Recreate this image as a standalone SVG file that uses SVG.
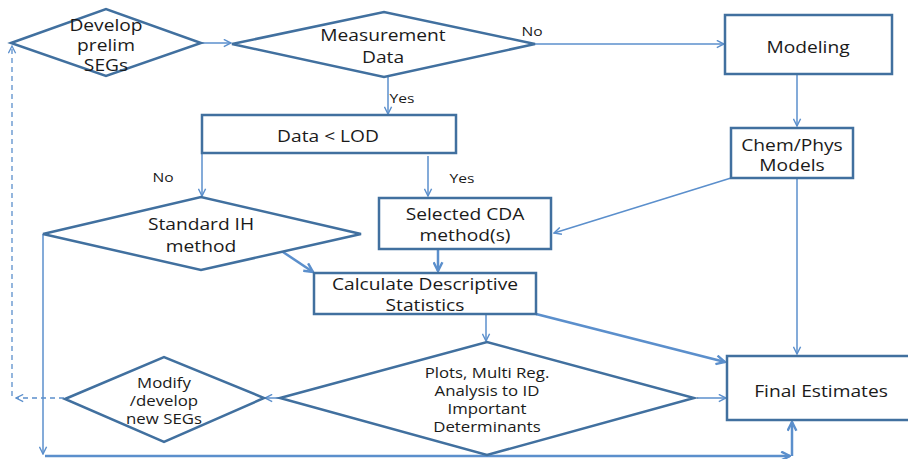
<svg xmlns="http://www.w3.org/2000/svg" width="908" height="459" viewBox="0 0 908 459">
<defs>
<marker id="ah" viewBox="0 0 10 10" refX="9" refY="5" markerWidth="9" markerHeight="9" markerUnits="userSpaceOnUse" orient="auto">
<path d="M1,1 L9,5 L1,9" fill="none" stroke="#5B8FCC" stroke-width="1.6"/>
</marker>
<marker id="ahd" viewBox="0 0 10 10" refX="9" refY="5" markerWidth="9" markerHeight="9" markerUnits="userSpaceOnUse" orient="auto">
<path d="M1,1 L9,5 L1,9" fill="none" stroke="#5B8FCC" stroke-width="1.4"/>
</marker>
<marker id="ahb" viewBox="0 0 10 10" refX="9" refY="5" markerWidth="11" markerHeight="11" markerUnits="userSpaceOnUse" orient="auto">
<path d="M1,1 L9,5 L1,9" fill="none" stroke="#5B8FCC" stroke-width="2.2"/>
</marker>
</defs>
<style>
.node{fill:#ffffff;stroke:#41709F;stroke-width:2.5}
.t{font-family:"Open Sans","Liberation Sans",sans-serif;font-size:16px;fill:#1a1a1a;text-anchor:middle}
.s{font-size:14px}
.lab{font-family:"Open Sans","Liberation Sans",sans-serif;font-size:13px;fill:#1a1a1a;text-anchor:middle}
.c{fill:none;stroke:#5B8FCC;stroke-width:1.5;marker-end:url(#ah)}
.cb{fill:none;stroke:#5B8FCC;stroke-width:2.5;marker-end:url(#ahb)}
.cd{fill:none;stroke:#5B8FCC;stroke-width:1.3;stroke-dasharray:5,4;marker-end:url(#ahd)}
</style>
<rect width="908" height="459" fill="#ffffff"/>
<g id="connectors">
<path class="c" d="M201,43 H231"/>
<path class="c" d="M535,44 H724"/>
<path class="c" d="M388,77 V114"/>
<path class="c" d="M797,75 V126"/>
<path class="c" d="M202,153 V196"/>
<path class="c" d="M428,156 V196"/>
<path class="c" d="M731,178 L554,233"/>
<path class="c" d="M797,178 V354"/>
<path class="cb" d="M280,250 L313,272"/>
<path class="cb" d="M438,249 V271"/>
<path class="c" d="M486,315 V341"/>
<path class="cb" d="M536,314 L725,362"/>
<path class="c" d="M697,398 H726"/>
<path class="c" d="M280,398 H265"/>
<path class="cd" d="M64,398 H16"/>
<path class="cd" d="M12,396 V46"/>
<path class="c" d="M43,234 V454"/>
<path class="cb" d="M45,456 H790"/>
<path class="cb" d="M792,456 V422"/>
</g>
<g id="develop">
<polygon class="node" points="11,43 106,9 201,43 106,76"/>
<text class="t" transform="translate(106 0) scale(1.2 1)"><tspan x="0" y="31">Develop</tspan><tspan x="0" y="51">prelim</tspan><tspan x="0" y="71">SEGs</tspan></text>
</g>
<g id="measurement">
<polygon class="node" points="232,44 384,12 535,44 384,77"/>
<text class="t" transform="translate(383 0) scale(1.2 1)"><tspan x="0" y="41">Measurement</tspan><tspan x="0" y="63">Data</tspan></text>
</g>
<g id="modeling">
<rect class="node" x="725" y="15" width="167" height="59"/>
<text class="t" transform="translate(808 0) scale(1.2 1)"><tspan x="0" y="53">Modeling</tspan></text>
</g>
<g id="chemphys">
<rect class="node" x="731" y="128" width="122" height="50"/>
<text class="t" transform="translate(792 0) scale(1.2 1)"><tspan x="0" y="151">Chem/Phys</tspan><tspan x="0" y="171">Models</tspan></text>
</g>
<g id="datalod">
<rect class="node" x="202" y="115" width="254" height="38"/>
<text class="t" transform="translate(328 0) scale(1.2 1)"><tspan x="0" y="142">Data &lt; LOD</tspan></text>
</g>
<g id="standardih">
<polygon class="node" points="43,234 201,197 361,234 201,270"/>
<text class="t" transform="translate(201 0) scale(1.2 1)"><tspan x="0" y="230">Standard IH</tspan><tspan x="0" y="252">method</tspan></text>
</g>
<g id="selectedcda">
<rect class="node" x="379" y="198" width="172" height="51"/>
<text class="t" transform="translate(465 0) scale(1.2 1)"><tspan x="0" y="220">Selected CDA</tspan><tspan x="0" y="241">method(s)</tspan></text>
</g>
<g id="calc">
<rect class="node" x="314" y="273" width="222" height="41"/>
<text class="t" transform="translate(425 0) scale(1.2 1)"><tspan x="0" y="290">Calculate Descriptive</tspan><tspan x="0" y="311">Statistics</tspan></text>
</g>
<g id="plots">
<polygon class="node" points="280,398 487,342 694,398 487,455"/>
<text class="t s" transform="translate(487 0) scale(1.2 1)"><tspan x="0" y="378">Plots, Multi Reg.</tspan><tspan x="0" y="396">Analysis to ID</tspan><tspan x="0" y="414">Important</tspan><tspan x="0" y="432">Determinants</tspan></text>
</g>
<g id="modify">
<polygon class="node" points="65,399 164,357 264,398 164,442"/>
<text class="t s" transform="translate(164 0) scale(1.2 1)"><tspan x="0" y="388">Modify</tspan><tspan x="0" y="406">/develop</tspan><tspan x="0" y="424">new SEGs</tspan></text>
</g>
<g id="final">
<rect class="node" x="727" y="356" width="190" height="64"/>
<text class="t" transform="translate(821 0) scale(1.2 1)"><tspan x="0" y="397">Final Estimates</tspan></text>
</g>
<g id="labels">
<text class="lab" transform="translate(532 0) scale(1.2 1)"><tspan x="0" y="36">No</tspan></text>
<text class="lab" transform="translate(402 0) scale(1.2 1)"><tspan x="0" y="103">Yes</tspan></text>
<text class="lab" transform="translate(163 0) scale(1.2 1)"><tspan x="0" y="182">No</tspan></text>
<text class="lab" transform="translate(462 0) scale(1.2 1)"><tspan x="0" y="183">Yes</tspan></text>
</g>
</svg>
